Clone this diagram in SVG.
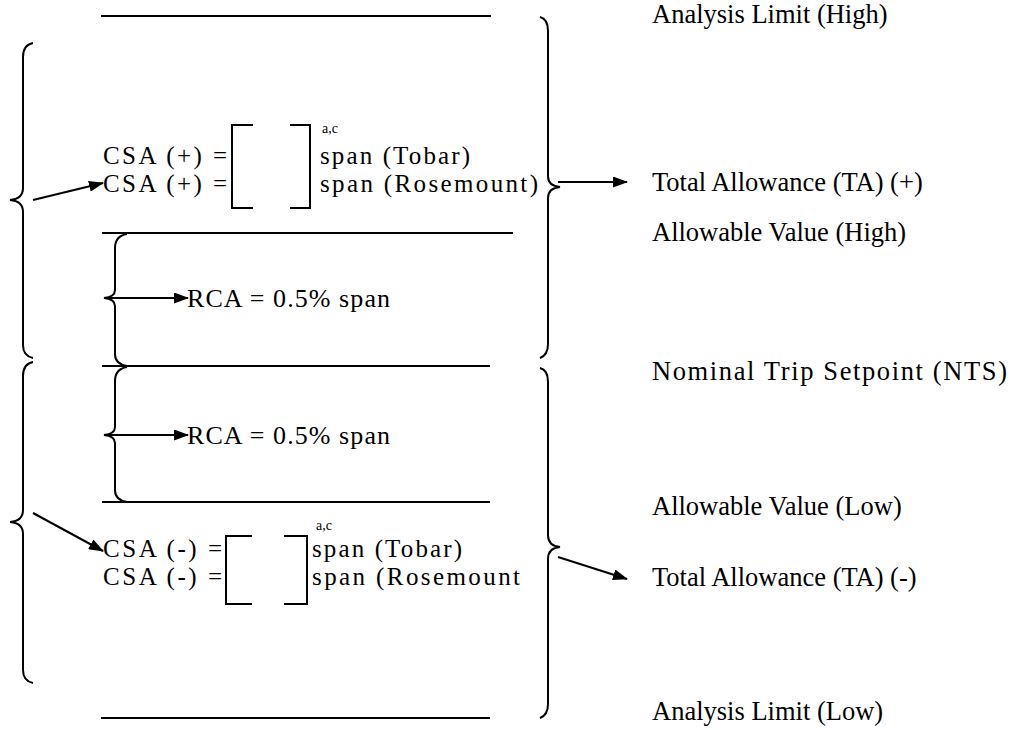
<svg xmlns="http://www.w3.org/2000/svg" width="1017" height="730" viewBox="0 0 1017 730">
<style>
text{font-family:"Liberation Serif","Times New Roman",serif;font-size:25px;fill:#000}
.lab{font-size:26.5px}
.rca{font-size:26px}
.sup{font-size:14px}
.ln{stroke:#000;stroke-width:2.2;fill:none}
.br{stroke:#000;stroke-width:2;fill:none}
.ar{stroke:#000;stroke-width:2;fill:none;marker-end:url(#ah)}
</style>
<defs>
<marker id="ah" markerUnits="userSpaceOnUse" markerWidth="15" markerHeight="11" refX="14" refY="5.5" orient="auto">
<path d="M0,0 L15,5.5 L0,11 z" fill="#000"/>
</marker>
</defs>
<g id="levels">
<line class="ln" x1="101" y1="16" x2="491" y2="16"/>
<line class="ln" x1="102" y1="233" x2="513" y2="233"/>
<line class="ln" x1="102" y1="366" x2="490" y2="366"/>
<line class="ln" x1="102" y1="502" x2="490" y2="502"/>
<line class="ln" x1="101" y1="718" x2="490" y2="718"/>
</g>
<g id="right-labels">
<text class="lab" x="652" y="23">Analysis Limit (High)</text>
<text class="lab" x="652" y="191">Total Allowance (TA) (+)</text>
<text class="lab" x="652" y="241">Allowable Value (High)</text>
<text class="lab" x="652" y="380" textLength="355">Nominal Trip Setpoint (NTS)</text>
<text class="lab" x="652" y="515">Allowable Value (Low)</text>
<text class="lab" x="652" y="586">Total Allowance (TA) (-)</text>
<text class="lab" x="652" y="720">Analysis Limit (Low)</text>
</g>
<g id="csa-plus">
<text x="103" y="164" textLength="124">CSA (+) =</text>
<text x="103" y="192" textLength="124">CSA (+) =</text>
<path class="br" d="M253,125 L232,125 L232,208 L253,208 M290,125 L310,125 L310,208 L290,208"/>
<text class="sup" x="322" y="133">a,c</text>
<text x="320" y="164" textLength="150">span (Tobar)</text>
<text x="320" y="192" textLength="218">span (Rosemount)</text>
</g>
<g id="rca-1">
<text class="rca" x="187" y="307" textLength="203">RCA = 0.5% span</text>
</g>
<g id="rca-2">
<text class="rca" x="187" y="444" textLength="203">RCA = 0.5% span</text>
</g>
<g id="csa-minus">
<text x="103" y="557" textLength="119">CSA (-) =</text>
<text x="103" y="585" textLength="119">CSA (-) =</text>
<path class="br" d="M252,536 L226,536 L226,604 L252,604 M284,536 L307,536 L307,604 L284,604"/>
<text class="sup" x="316" y="530">a,c</text>
<text x="312" y="557" textLength="150">span (Tobar)</text>
<text x="312" y="585" textLength="208">span (Rosemount</text>
</g>
<g id="braces">
<path class="br" d="M33,43 Q23,45 23,57 L23,188 Q23,199 10,200 Q23,201 23,212 L23,345 Q23,356 33,358"/>
<path class="br" d="M33,362 Q23,364 23,376 L23,510 Q23,521 10,522 Q23,523 23,534 L23,670 Q23,681 33,683"/>
<path class="br" d="M127,234 Q115,236 115,248 L115,290 Q115,297 104,298 Q115,299 115,306 L115,354 Q115,364 127,366"/>
<path class="br" d="M127,367 Q115,369 115,381 L115,427 Q115,434 104,435 Q115,436 115,443 L115,490 Q115,500 127,502"/>
<path class="br" d="M540,17 Q548,19 548,31 L548,176 Q548,186 560,187 Q548,188 548,198 L548,344 Q548,355 540,358"/>
<path class="br" d="M540,368 Q548,370 548,382 L548,535 Q548,546 560,547 Q548,548 548,559 L548,704 Q548,715 540,718"/>
</g>
<g id="connectors">
<line class="ar" x1="33" y1="200" x2="103" y2="183"/>
<line class="ar" x1="104" y1="298" x2="188" y2="298"/>
<line class="ar" x1="104" y1="435" x2="188" y2="435"/>
<line class="ar" x1="33" y1="513" x2="103" y2="551"/>
<line class="ar" x1="558" y1="182" x2="627" y2="182"/>
<line class="ar" x1="558" y1="557" x2="627" y2="579"/>
</g>
</svg>
